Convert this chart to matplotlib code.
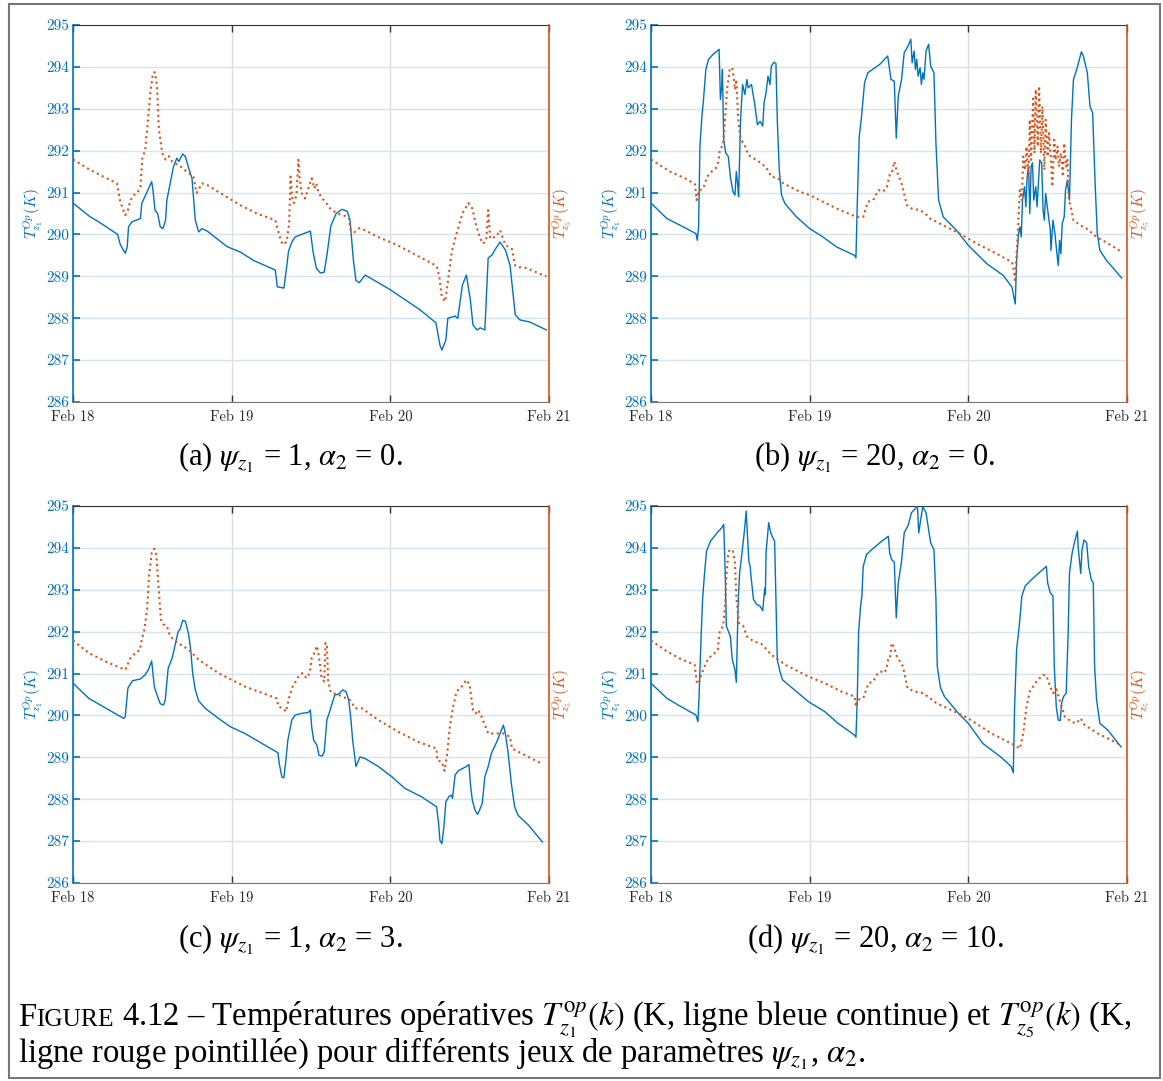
import numpy as np
import matplotlib.pyplot as plt
from matplotlib.patches import Rectangle
from matplotlib.transforms import IdentityTransform

blue = '#0072BD'
orange = '#D95319'

# hours since Feb 18 00:00 -> temperature (K)
a_z1 = [(0, 290.75), (2.6, 290.42), (3.9, 290.30), (6.75, 290.00), (7.15, 289.76), (7.9, 289.55),
        (8.2, 289.70), (8.4, 290.18), (8.9, 290.30), (9.7, 290.35), (10.2, 290.38), (10.4, 290.74),
        (11.1, 290.98), (11.9, 291.26), (12.1, 291.06), (12.4, 290.58), (12.8, 290.50), (13.2, 290.18),
        (13.6, 290.14), (14.0, 290.34), (14.2, 290.82), (14.7, 291.22), (15.2, 291.62), (15.7, 291.82),
        (16.0, 291.74), (16.6, 291.92), (17.0, 291.86), (17.5, 291.58), (18.0, 291.34), (18.5, 290.34),
        (19.0, 290.06), (19.5, 290.14), (20.3, 290.08), (23.3, 289.71), (25.3, 289.58), (27.3, 289.38),
        (30.6, 289.15), (30.9, 288.75), (31.9, 288.72), (32.3, 289.20), (32.6, 289.60), (33.1, 289.82),
        (33.6, 289.94), (34.9, 290.02), (35.9, 290.08), (36.3, 289.60), (36.8, 289.20), (37.4, 289.08),
        (38.0, 289.10), (38.4, 289.50), (39.0, 290.20), (39.8, 290.50), (40.7, 290.60), (41.5, 290.55),
        (41.9, 290.35), (42.4, 289.40), (42.8, 288.90), (43.3, 288.85), (44.2, 289.03), (48.0, 288.68),
        (52.5, 288.20), (54.9, 287.89), (55.5, 287.36), (55.8, 287.24), (56.4, 287.48), (56.7, 288.00),
        (57.8, 288.05), (58.2, 288.00), (58.9, 288.79), (59.5, 289.03), (60.1, 288.44), (60.5, 287.84),
        (61.1, 287.72), (61.6, 287.77), (62.3, 287.72), (62.8, 289.44), (63.4, 289.51), (63.8, 289.63),
        (64.6, 289.82), (65.4, 289.63), (66.1, 289.27), (66.9, 288.08), (67.6, 287.96), (69.1, 287.91),
        (71.6, 287.72)]
a_z5 = [(0, 291.79), (2.6, 291.54), (5.1, 291.34), (6.65, 291.22), (7.15, 290.78), (7.9, 290.46),
        (8.3, 290.58), (8.7, 290.82), (9.2, 290.94), (9.7, 290.98), (10.2, 291.14), (10.5, 291.86),
        (10.9, 291.98), (11.3, 292.66), (11.7, 293.38), (12.1, 293.86), (12.4, 293.87), (12.7, 293.54),
        (13.0, 292.50), (13.5, 291.94), (14.0, 291.79), (14.5, 291.87), (15.0, 291.74), (16.2, 291.63),
        (17.2, 291.50), (18.2, 291.38), (18.7, 290.99), (19.5, 291.22), (20.3, 291.18), (22.8, 290.94),
        (25.3, 290.70), (27.8, 290.50), (30.6, 290.34), (31.2, 289.98), (31.7, 289.76), (32.3, 289.82),
        (32.7, 290.26), (32.9, 291.38), (33.2, 290.82), (33.4, 290.75), (33.8, 290.94), (34.1, 291.78),
        (34.3, 291.30), (34.6, 290.98), (35.1, 290.86), (35.6, 291.10), (36.1, 291.34), (36.5, 291.10),
        (36.8, 291.22), (37.1, 291.02), (37.5, 290.90), (38.3, 290.75), (39.0, 290.60), (40.0, 290.50),
        (41.0, 290.45), (41.7, 290.40), (42.0, 290.10), (42.5, 290.05), (43.3, 290.15), (44.2, 290.10),
        (46.0, 289.95), (49.0, 289.75), (52.0, 289.50), (55.0, 289.25), (55.4, 289.00), (55.8, 288.50),
        (56.3, 288.40), (56.8, 289.00), (57.3, 289.60), (57.8, 289.90), (58.9, 290.50), (59.8, 290.75),
        (60.4, 290.62), (61.0, 290.20), (61.5, 289.95), (62.0, 289.78), (62.5, 289.85), (62.8, 290.58),
        (63.1, 289.90), (64.0, 289.95), (64.6, 290.10), (65.4, 289.75), (66.4, 289.65), (66.9, 289.25),
        (67.5, 289.22), (68.5, 289.20), (71.6, 289.00)]

b_z1 = [(0, 290.75), (2.4, 290.38), (4.4, 290.22), (6.8, 290.02), (7.0, 289.86), (7.2, 290.18),
        (7.4, 292.10), (7.7, 292.82), (7.9, 293.14), (8.3, 293.94), (8.7, 294.18), (9.4, 294.30),
        (10.3, 294.42), (10.5, 293.22), (10.7, 293.54), (10.8, 293.94), (11.0, 292.26), (11.3, 291.94),
        (11.7, 291.86), (12.0, 291.38), (12.4, 291.02), (12.7, 290.94), (12.9, 291.50), (13.1, 291.22),
        (13.25, 290.90), (13.55, 292.74), (13.85, 293.58), (14.2, 293.34), (14.5, 293.70), (14.7, 293.50),
        (15.2, 293.58), (15.5, 293.30), (15.7, 293.10), (16.1, 292.62), (16.5, 292.70), (16.9, 292.59),
        (17.1, 293.14), (17.4, 293.38), (17.7, 293.78), (18.0, 293.58), (18.2, 294.02), (18.6, 294.11),
        (18.9, 294.08), (19.1, 292.74), (19.4, 291.54), (19.75, 290.94), (20.25, 290.74), (22.0, 290.42),
        (24.0, 290.14), (26.0, 289.94), (28.1, 289.70), (30.8, 289.50), (31.0, 289.44), (31.2, 290.74),
        (31.5, 292.34), (31.8, 292.74), (32.3, 293.62), (32.8, 293.86), (34.6, 294.06), (35.8, 294.26),
        (36.3, 293.70), (36.8, 293.66), (37.1, 292.30), (37.4, 293.30), (37.9, 293.70), (38.3, 294.34),
        (38.9, 294.50), (39.3, 294.66), (39.5, 294.10), (39.8, 294.38), (40.0, 293.94), (40.2, 294.18),
        (40.4, 293.78), (40.7, 293.98), (40.9, 293.58), (41.1, 293.86), (41.3, 293.70), (41.6, 294.38),
        (42.0, 294.54), (42.3, 294.02), (42.8, 293.86), (43.1, 292.18), (43.5, 290.82), (44.2, 290.42),
        (46.2, 290.10), (48.0, 289.74), (50.8, 289.30), (53.3, 289.02), (54.6, 288.74), (54.8, 288.58),
        (55.1, 288.34), (55.3, 289.38), (55.6, 290.02), (55.8, 290.18), (56.0, 289.94), (56.2, 290.82),
        (56.5, 291.14), (56.7, 290.66), (56.9, 291.38), (57.1, 291.62), (57.3, 290.50), (57.5, 291.62),
        (57.7, 291.71), (57.9, 290.82), (58.2, 291.14), (58.4, 290.66), (58.8, 291.78), (59.1, 291.70),
        (59.3, 290.58), (59.5, 290.34), (59.7, 290.98), (60.1, 290.46), (60.4, 290.10), (60.5, 289.62),
        (60.8, 290.34), (61.1, 290.02), (61.4, 289.54), (61.6, 289.26), (61.8, 289.86), (62.0, 289.54),
        (62.2, 290.26), (62.5, 290.42), (62.7, 291.06), (63.0, 291.30), (63.3, 290.82), (63.6, 292.74),
        (63.9, 293.70), (64.4, 293.94), (64.8, 294.18), (65.1, 294.36), (65.4, 294.26), (66.0, 293.86),
        (66.4, 293.06), (66.8, 292.90), (67.2, 291.14), (67.5, 290.02), (67.9, 289.62), (68.9, 289.38),
        (71.2, 288.96)]
b_z5 = [(0, 291.79), (2.9, 291.50), (5.4, 291.32), (6.65, 291.20), (6.9, 290.82), (7.2, 291.04),
        (7.9, 291.10), (8.5, 291.38), (9.3, 291.52), (9.8, 291.58), (10.2, 291.74), (10.4, 292.02),
        (10.9, 292.14), (11.2, 292.74), (11.5, 293.46), (11.9, 293.94), (12.3, 293.98), (12.5, 293.74),
        (12.7, 293.46), (12.9, 293.70), (13.2, 292.74), (13.55, 292.26), (14.05, 292.18), (14.7, 291.90),
        (15.5, 291.82), (16.7, 291.70), (17.5, 291.58), (18.2, 291.38), (19.2, 291.34), (20.0, 291.22),
        (22.5, 291.02), (24.0, 290.94), (26.0, 290.78), (28.6, 290.58), (31.1, 290.42), (32.1, 290.42),
        (32.8, 290.78), (33.6, 290.82), (34.4, 291.06), (35.1, 291.02), (35.7, 291.14), (36.1, 291.42),
        (36.4, 291.46), (36.8, 291.74), (37.2, 291.50), (37.9, 291.22), (38.7, 290.70), (39.4, 290.62),
        (40.7, 290.58), (41.5, 290.50), (42.2, 290.38), (44.7, 290.18), (46.7, 290.02), (49.3, 289.78),
        (51.8, 289.58), (54.6, 289.34), (54.8, 289.22), (55.1, 288.86), (55.3, 289.54), (55.6, 290.42),
        (55.8, 291.06), (56.1, 290.82), (56.3, 291.86), (56.6, 291.54), (56.8, 292.10), (57.1, 291.30),
        (57.3, 292.74), (57.5, 291.78), (57.8, 293.30), (58.0, 291.94), (58.2, 293.46), (58.5, 292.10),
        (58.7, 293.54), (59.0, 291.94), (59.2, 293.06), (59.5, 291.54), (59.7, 292.74), (60.0, 291.86),
        (60.2, 292.42), (60.5, 291.78), (60.7, 291.14), (61.0, 292.26), (61.2, 291.78), (61.5, 292.10),
        (61.7, 291.62), (62.0, 291.94), (62.3, 291.38), (62.5, 292.18), (62.8, 291.62), (63.0, 291.78),
        (63.2, 290.82), (63.5, 290.66), (63.9, 290.34), (64.9, 290.22), (65.9, 290.14), (67.4, 289.94),
        (69.2, 289.78), (71.2, 289.58)]

c_z1 = [(0, 290.77), (2.37, 290.41), (7.66, 289.93), (7.9, 289.97), (8.3, 290.65), (9.0, 290.83),
        (10.2, 290.87), (10.9, 290.97), (11.4, 291.09), (11.9, 291.30), (12.3, 290.69), (12.7, 290.49),
        (13.2, 290.28), (13.7, 290.25), (13.95, 290.37), (14.4, 291.13), (15.0, 291.37), (15.9, 292.00),
        (16.2, 292.06), (16.6, 292.27), (17.0, 292.25), (17.5, 291.93), (17.8, 291.57), (18.1, 291.01),
        (18.5, 290.61), (19.0, 290.35), (20.0, 290.17), (22.0, 289.93), (23.8, 289.73), (26.0, 289.57),
        (28.6, 289.33), (31.0, 289.11), (31.2, 288.85), (31.6, 288.53), (31.9, 288.51), (32.2, 288.93),
        (32.5, 289.41), (33.1, 289.89), (33.6, 290.01), (34.6, 290.05), (35.6, 290.07), (35.9, 290.13),
        (36.1, 289.73), (36.4, 289.41), (36.9, 289.29), (37.2, 289.05), (37.7, 289.03), (38.0, 289.13),
        (38.4, 289.89), (38.9, 290.13), (39.2, 290.29), (39.6, 290.49), (40.2, 290.51), (40.8, 290.61),
        (41.3, 290.57), (41.7, 290.37), (42.0, 289.97), (42.3, 289.41), (42.8, 288.78), (43.4, 289.01),
        (44.2, 288.97), (46.2, 288.78), (48.2, 288.54), (50.2, 288.26), (52.7, 288.06), (55.0, 287.82),
        (55.3, 287.42), (55.5, 287.02), (55.8, 286.94), (56.1, 287.34), (56.4, 287.94), (56.9, 288.07),
        (57.2, 288.10), (57.4, 288.02), (57.8, 288.58), (58.3, 288.68), (59.0, 288.74), (59.5, 288.78),
        (59.9, 288.83), (60.1, 288.38), (60.4, 287.98), (60.8, 287.74), (61.2, 287.64), (61.5, 287.74),
        (61.9, 287.90), (62.3, 288.54), (62.8, 288.78), (63.3, 289.10), (64.1, 289.37), (64.6, 289.57),
        (65.1, 289.77), (65.4, 289.57), (65.8, 289.13), (66.3, 288.38), (66.8, 287.82), (67.3, 287.62),
        (68.9, 287.38), (71.0, 286.98)]
c_z5 = [(0, 291.79), (2.4, 291.49), (4.9, 291.29), (7.9, 291.09), (8.7, 291.37), (9.7, 291.53),
        (10.1, 291.55), (10.4, 291.81), (10.8, 292.05), (11.2, 292.53), (11.5, 293.32), (11.9, 293.88),
        (12.3, 293.98), (12.6, 293.84), (12.9, 293.16), (13.3, 292.29), (13.7, 292.17), (14.2, 292.13),
        (14.7, 291.89), (15.5, 291.77), (17.5, 291.57), (19.0, 291.33), (22.0, 291.01), (26.0, 290.69),
        (30.8, 290.41), (31.1, 290.21), (31.8, 290.17), (32.2, 290.09), (32.6, 290.37), (33.1, 290.65),
        (34.1, 290.93), (34.7, 291.01), (35.3, 290.89), (35.8, 291.01), (36.1, 291.37), (36.5, 291.49),
        (36.9, 291.66), (37.2, 291.41), (37.6, 290.89), (38.0, 290.81), (38.2, 291.73), (38.4, 291.70),
        (38.6, 290.81), (39.0, 290.55), (40.2, 290.49), (41.9, 290.37), (42.7, 290.17), (43.7, 290.17),
        (46.2, 289.89), (49.2, 289.61), (52.2, 289.37), (55.0, 289.21), (55.1, 288.93), (55.8, 288.89),
        (56.2, 288.68), (56.6, 289.09), (57.0, 289.73), (57.5, 290.21), (58.0, 290.57), (58.8, 290.69),
        (59.5, 290.85), (60.0, 290.73), (60.5, 290.13), (60.9, 290.05), (61.3, 290.13), (61.8, 289.97),
        (62.8, 289.57), (65.1, 289.57), (66.1, 289.49), (66.4, 289.21), (68.4, 289.05), (70.9, 288.85)]

d_z1 = [(0, 290.77), (2.4, 290.41), (4.1, 290.25), (6.8, 290.01), (7.1, 289.85), (7.25, 290.37),
        (7.6, 291.97), (7.8, 292.77), (8.1, 293.40), (8.4, 293.92), (9.0, 294.16), (10.0, 294.36),
        (10.7, 294.48), (11.0, 294.56), (11.2, 293.56), (11.4, 292.13), (11.7, 292.01), (12.0, 291.89),
        (12.3, 291.33), (12.7, 291.09), (12.9, 290.79), (13.2, 292.77), (13.4, 293.40), (13.8, 293.92),
        (14.2, 294.52), (14.4, 294.88), (14.6, 294.28), (14.8, 293.68), (15.0, 293.56), (15.1, 293.36),
        (15.5, 292.77), (16.0, 292.65), (16.5, 292.61), (16.9, 292.50), (17.2, 293.04), (17.3, 292.88),
        (17.4, 293.88), (17.8, 294.60), (18.1, 294.36), (18.5, 294.22), (18.7, 294.16), (18.9, 292.77),
        (19.1, 291.33), (19.5, 291.05), (19.9, 290.85), (22.3, 290.53), (23.8, 290.33), (26.3, 290.09),
        (28.3, 289.81), (30.8, 289.53), (31.0, 289.48), (31.2, 290.37), (31.4, 291.97), (31.7, 292.61),
        (31.9, 292.85), (32.1, 293.56), (32.6, 293.84), (33.4, 293.96), (34.9, 294.16), (35.6, 294.24),
        (35.9, 294.28), (36.1, 293.88), (36.4, 293.72), (36.8, 293.66), (37.1, 292.33), (37.4, 293.16),
        (37.9, 293.68), (38.3, 294.36), (38.9, 294.54), (39.4, 294.84), (40.1, 294.96), (40.3, 295.00),
        (40.5, 294.36), (40.8, 294.68), (41.1, 294.98), (41.6, 294.84), (42.3, 294.12), (42.8, 293.96),
        (43.1, 292.77), (43.3, 291.17), (43.8, 290.65), (44.4, 290.45), (46.5, 290.05), (48.0, 289.81),
        (50.2, 289.33), (52.9, 289.01), (54.5, 288.78), (54.8, 288.63), (55.0, 290.21), (55.3, 291.57),
        (55.7, 292.13), (56.1, 292.85), (56.6, 293.09), (57.6, 293.25), (59.8, 293.56), (60.0, 293.16),
        (60.4, 292.93), (60.8, 292.85), (61.0, 291.17), (61.3, 290.21), (61.6, 289.89), (61.9, 289.88),
        (62.1, 290.29), (62.4, 290.45), (62.8, 290.53), (63.1, 291.97), (63.3, 293.40), (63.7, 293.88),
        (64.1, 294.16), (64.5, 294.40), (64.6, 294.04), (65.0, 293.39), (65.2, 293.96), (65.5, 294.19),
        (65.9, 294.12), (66.2, 293.56), (66.6, 293.24), (66.9, 293.16), (67.1, 291.17), (67.4, 290.37),
        (67.9, 289.81), (69.1, 289.65), (71.1, 289.25)]
d_z5 = [(0, 291.79), (2.4, 291.53), (4.6, 291.34), (6.6, 291.21), (6.9, 290.81), (7.2, 290.75),
        (7.6, 290.97), (8.2, 291.21), (8.7, 291.37), (9.4, 291.45), (10.1, 291.57), (10.4, 292.01),
        (10.9, 292.13), (11.2, 292.61), (11.4, 293.32), (11.7, 293.88), (11.9, 293.96), (12.4, 293.92),
        (12.7, 293.64), (12.9, 292.85), (13.3, 292.21), (13.9, 292.15), (14.5, 291.89), (15.5, 291.77),
        (16.7, 291.71), (18.2, 291.45), (20.3, 291.21), (23.8, 290.93), (26.3, 290.77), (28.8, 290.57),
        (30.8, 290.45), (31.0, 290.21), (31.2, 290.37), (32.1, 290.41), (32.9, 290.77), (33.6, 290.81),
        (34.3, 291.01), (34.8, 291.05), (35.1, 291.01), (35.6, 291.09), (35.96, 291.41), (36.2, 291.41),
        (36.4, 291.73), (36.7, 291.65), (37.2, 291.41), (38.1, 291.17), (38.8, 290.65), (39.9, 290.57),
        (41.2, 290.53), (43.2, 290.29), (46.5, 290.05), (48.0, 289.93), (51.5, 289.57), (55.0, 289.29),
        (55.8, 289.21), (56.3, 289.57), (56.8, 290.21), (57.3, 290.57), (58.3, 290.81), (59.3, 290.97),
        (59.8, 290.95), (60.3, 290.73), (60.8, 290.53), (61.3, 290.63), (61.8, 290.37), (62.6, 289.97),
        (63.6, 289.85), (64.3, 289.81), (65.0, 289.93), (65.6, 289.77), (67.6, 289.57), (71.1, 289.29)]

day_ticks = [0, 24, 48, 72]
day_labels = ['Feb 18', 'Feb 19', 'Feb 20', 'Feb 21']
temp_ticks = list(range(286, 296))

captions = [r'(a) $\psi_{z_1}$ = 1, $\alpha_2$ = 0.',
            r'(b) $\psi_{z_1}$ = 20, $\alpha_2$ = 0.',
            r'(c) $\psi_{z_1}$ = 1, $\alpha_2$ = 3.',
            r'(d) $\psi_{z_1}$ = 20, $\alpha_2$ = 10.']

W, H = 1163, 1081
fig = plt.figure(figsize=(W / 100, H / 100), dpi=100)


def px_rect(left, top, right, bottom):
    return [left / W, 1 - bottom / H, (right - left) / W, (bottom - top) / H]


def panel(rect, z1, z5):
    ax = fig.add_axes(rect)
    t1, v1 = zip(*z1)
    t5, v5 = zip(*z5)
    ax.plot(t1, v1, color=blue, lw=1.0, zorder=3)
    ax.plot(t5, v5, color=orange, lw=1.5, ls=':', zorder=4)
    ax.set_xlim(0, 72)
    ax.set_ylim(286, 295)
    ax.set_xticks(day_ticks)
    ax.set_xticklabels(day_labels, fontfamily='cmr10', fontsize=10.5, color='#262626')
    ax.set_yticks(temp_ticks)
    ax.set_yticklabels([str(v) for v in temp_ticks], fontfamily='cmr10', fontsize=11, color=blue)
    ax.tick_params(axis='x', direction='in', top=True, length=5, width=1, color='#333333', pad=6)
    ax.tick_params(axis='y', direction='in', right=True, length=5, width=1.2, color=blue, pad=3)
    ax.grid(axis='y', color='#d6e4f0', lw=1.0)
    ax.grid(axis='x', color='#dddddd', lw=1.0)
    ax.set_axisbelow(True)
    ax.spines['left'].set_color(blue)
    ax.spines['left'].set_linewidth(1.2)
    ax.spines['top'].set_color('#333333')
    ax.spines['bottom'].set_color('#777777')
    ax.spines['right'].set_visible(False)
    ax.set_ylabel(r'$T^{Op}_{z_1}(K)$', color=blue, fontsize=11, math_fontfamily='cm')
    ax.yaxis.set_label_coords(-40 / 476, 0.5)
    ax.yaxis.label.set_va('center')

    ax2 = ax.twinx()
    ax2.set_ylim(286, 295)
    ax2.set_yticks([])
    for s in ('top', 'bottom', 'left'):
        ax2.spines[s].set_visible(False)
    ax2.spines['right'].set_color(orange)
    ax2.spines['right'].set_linewidth(1.2)
    ax2.set_ylabel(r'$T^{Op}_{z_5}(K)$', color=orange, fontsize=11, math_fontfamily='cm')
    ax2.yaxis.set_label_coords(1 + 13 / 476, 0.5)
    ax2.yaxis.label.set_va('center')
    return ax


panel(px_rect(73, 25, 549, 402), a_z1, a_z5)
panel(px_rect(651, 25, 1127, 402), b_z1, b_z5)
panel(px_rect(73, 506, 549, 883), c_z1, c_z5)
panel(px_rect(651, 506, 1127, 883), d_z1, d_z5)

cap_font = dict(family='Liberation Serif', math_fontfamily='stix', color='black')
for s, (x, y) in zip(captions, [(290, 458), (875, 458), (290, 940), (875, 940)]):
    fig.text(x / W, 1 - y / H, s, ha='center', va='center', fontsize=22, **cap_font)

# figure caption, small caps for "Figure"
renderer = fig.canvas.get_renderer()
ident = IdentityTransform()


def put(x, y, s, size):
    t = fig.text(x, H - y, s, transform=ident, fontsize=size, va='baseline', **cap_font)
    return x + t.get_window_extent(renderer).width


fs = 23.5
x = put(18, 1026, 'F', fs)
x = put(x, 1026, 'IGURE', fs * 0.78)
put(x, 1026, r' 4.12 – Températures opératives $T^{\mathrm{o}p}_{z_1}(k)$ (K, ligne bleue continue) '
             r'et $T^{\mathrm{o}p}_{z_5}(k)$ (K,', fs)
put(18, 1062, r'ligne rouge pointillée) pour différents jeux de paramètres $\psi_{z_1}$, $\alpha_2$.', fs)

fig.patches.append(Rectangle((9 / W, 3 / H), 1151 / W, 1074 / H, transform=fig.transFigure,
                             fill=False, ec='#777777', lw=1.5))

fig.savefig('out.png', dpi=100)
